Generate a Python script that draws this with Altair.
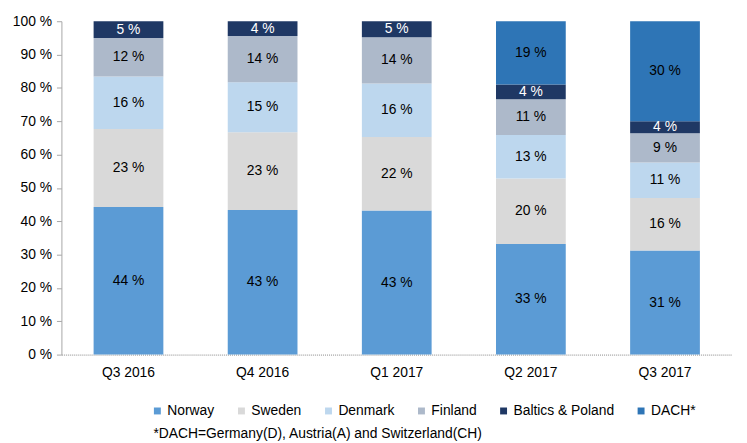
import altair as alt
import pandas as pd

quarters = ["Q3 2016", "Q4 2016", "Q1 2017", "Q2 2017", "Q3 2017"]
regions = ["Norway", "Sweden", "Denmark", "Finland", "Baltics & Poland", "DACH*"]
colors = ["#5B9BD5", "#D9D9D9", "#BDD7EE", "#ADB9CA", "#1F3864", "#2E75B6"]
label_colors = ["black", "black", "black", "black", "white", "black"]

norway = [44.3, 43.4, 43.2, 33.2, 31.2]
sweden = [23.4, 23.3, 22.1, 19.6, 15.8]
denmark = [15.7, 15.0, 16.0, 13.1, 10.6]
finland = [11.6, 13.9, 13.9, 10.7, 8.8]
baltics = [5.0, 4.4, 4.8, 4.4, 3.6]
dach = [0.0, 0.0, 0.0, 19.0, 30.0]
y_ticks = [0, 10, 20, 30, 40, 50, 60, 70, 80, 90, 100]

footnote = "*DACH=Germany(D), Austria(A) and Switzerland(CH)"

series = [norway, sweden, denmark, finland, baltics, dach]
rows = []
for i, (r, vals) in enumerate(zip(regions, series)):
    for q, v in zip(quarters, vals):
        rows.append({"quarter": q, "region": r, "value": v, "idx": i,
                     "lc": label_colors[i]})
df = pd.DataFrame(rows)

FONT = "Liberation Sans"
FS = 14

base = alt.Chart(df).transform_stack(
    stack="value", groupby=["quarter"], as_=["y0", "y1"],
    sort=[alt.SortField("idx", order="ascending")]
).transform_calculate(mid="(datum.y0 + datum.y1) / 2")

x_axis = alt.Axis(labelAngle=0, ticks=False, domainColor="#888888",
                  domainDash=[1, 1], domainWidth=1, labelPadding=11)
x_scale = alt.Scale(paddingInner=0.48, paddingOuter=0.24)
y_axis = alt.Axis(values=y_ticks, labelExpr="datum.value + ' %'",
                  domainColor="#A6A6A6", tickColor="#A6A6A6",
                  tickSize=5, labelPadding=5)
y_scale = alt.Scale(domain=[0, 100], nice=False)

bars = base.mark_bar().encode(
    x=alt.X("quarter:N", sort=quarters, title=None, scale=x_scale, axis=x_axis),
    y=alt.Y("y0:Q", title=None, scale=y_scale, axis=y_axis),
    y2="y1:Q",
    color=alt.Color("region:N", sort=regions,
                    scale=alt.Scale(domain=regions, range=colors),
                    legend=alt.Legend(title=None, orient="none", direction="horizontal",
                                      legendX=90, legendY=387,
                                      symbolType="square", symbolSize=49,
                                      symbolStrokeWidth=0,
                                      labelFontSize=FS, labelFont=FONT,
                                      labelColor="black", columnPadding=20,
                                      labelOffset=3)),
)

labels = base.transform_filter("datum.value > 0").transform_calculate(
    lbl="format(datum.value, '.0f') + ' %'"
).mark_text(fontSize=FS, font=FONT).encode(
    x=alt.X("quarter:N", sort=quarters, title=None, scale=x_scale, axis=x_axis),
    y=alt.Y("mid:Q", title=None, scale=y_scale, axis=y_axis),
    text=alt.Text("lbl:N"),
    color=alt.Color("lc:N", scale=None),
)

note = alt.Chart(pd.DataFrame({"t": [footnote]})).mark_text(
    align="left", baseline="middle", fontSize=FS, font=FONT, color="black"
).encode(x=alt.value(93), y=alt.value(417), text="t:N")

chart = alt.layer(bars, labels, note).properties(
    width=678, height=337,
    padding={"left": 54, "top": 11, "right": 7, "bottom": 87},
    autosize=alt.AutoSizeParams(type="none"),
).configure_view(stroke=None).configure_axis(
    labelOverlap=False, grid=False, labelFontSize=FS, labelFont=FONT,
    labelColor="black"
)

chart.save("out.html", embed_options={"renderer": "svg", "actions": False})
